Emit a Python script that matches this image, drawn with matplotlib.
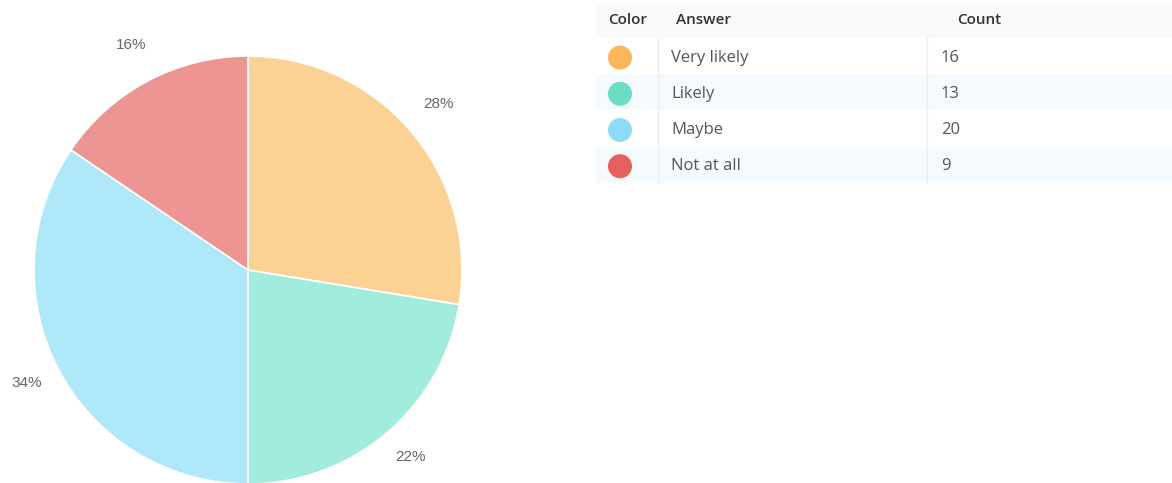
import matplotlib
matplotlib.use("Agg")
import matplotlib.pyplot as plt
import matplotlib.patches as patches

answers = ["Very likely", "Likely", "Maybe", "Not at all"]
counts = [16, 13, 20, 9]
slice_colors = ["#FCD294", "#A1ECDC", "#AFE9F9", "#EC9593"]
dot_colors = ["#F9B65A", "#6CDCC4", "#8EDBF7", "#E8605D"]
headers = ["Color", "Answer", "Count"]

W, H = 1172, 483
fig = plt.figure(figsize=(W / 100, H / 100), dpi=100)
fig.patch.set_facecolor("white")

# Pie, drawn in pixel units (y up)
ax = fig.add_axes([0, 0, 1, 1])
wedges, texts, pcts = ax.pie(
    counts, colors=slice_colors, startangle=90, counterclock=False,
    center=(248, H - 270), radius=214, autopct="%.0f%%", pctdistance=1.17,
    wedgeprops=dict(edgecolor="white", linewidth=1.2),
    textprops=dict(fontsize=11, color="#666666", family="Liberation Sans"),
)
for t in pcts:
    t.set_y(t.get_position()[1] + 4)
ax.set_xlim(0, W)
ax.set_ylim(0, H)
ax.set_aspect("equal")
ax.axis("off")

# Table on the right (y down, pixel units)
tx = fig.add_axes([0, 0, 1, 1])
tx.set_xlim(0, W)
tx.set_ylim(H, 0)
tx.axis("off")

left, right = 596, W
col_sep = [658, 927]
head_top, head_bot = 3, 38
row_h = 36.2

tx.add_patch(patches.Rectangle((left, head_top), right - left, head_bot - head_top,
                               facecolor="#F8F9FA", edgecolor="none"))
for x, h in zip([608, 676, 957], headers):
    tx.text(x, 20, h, fontsize=11, color="#333333", family="Open Sans",
            weight="semibold", va="center")

for i, (ans, cnt, dc) in enumerate(zip(answers, counts, dot_colors)):
    top = head_bot + i * row_h
    mid = top + row_h / 2 + 1.5
    if i % 2 == 1:
        tx.add_patch(patches.Rectangle((left, top), right - left, row_h,
                                       facecolor="#F4FAFD", edgecolor="none"))
    tx.add_patch(patches.Circle((620, mid), 12, facecolor=dc, edgecolor="none"))
    tx.text(671, mid, ans, fontsize=12, color="#555555", family="Open Sans",
            va="center")
    tx.text(941, mid, str(cnt), fontsize=12, color="#555555", family="Open Sans",
            va="center")

bottom = head_bot + len(answers) * row_h
for x in col_sep:
    tx.plot([x, x], [head_bot, bottom], color="#ECEEF0", lw=1)

fig.savefig("out.png", dpi=100, facecolor="white")
